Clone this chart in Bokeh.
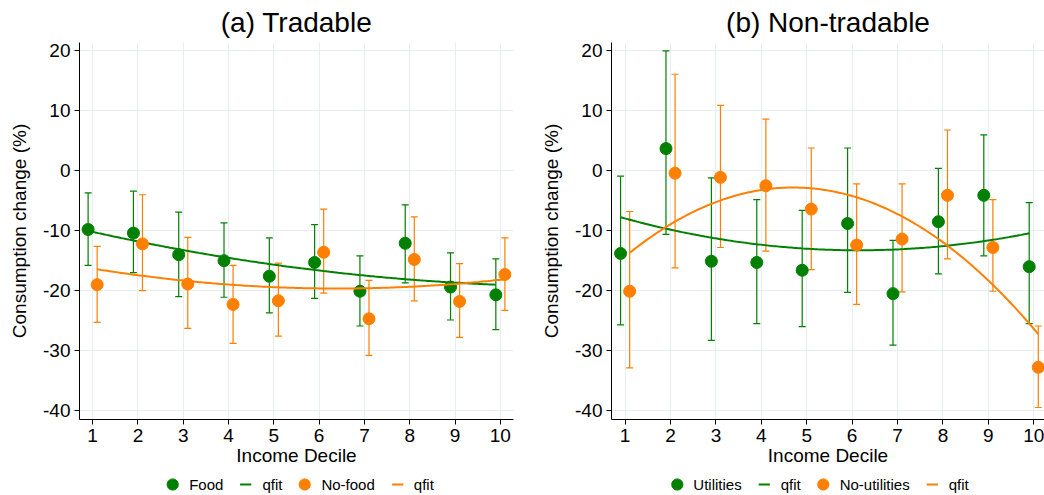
import numpy as np
from bokeh.plotting import figure
from bokeh.models import (Range1d, FixedTicker, Whisker, TeeHead, ColumnDataSource,
                          Legend, LegendItem, PrintfTickFormatter)
from bokeh.layouts import row, column
from bokeh.embed import file_html
from bokeh.resources import INLINE

# ---------------- data ----------------
deciles = [1, 2, 3, 4, 5, 6, 7, 8, 9, 10]

food = [-9.8, -10.4, -14.0, -15.0, -17.6, -15.3, -20.1, -12.1, -19.4, -20.7]
food_hi = [-3.7, -3.4, -6.9, -8.7, -11.2, -9.0, -14.2, -5.7, -13.7, -14.7]
food_lo = [-15.8, -17.0, -21.0, -21.1, -23.7, -21.3, -25.9, -18.7, -24.9, -26.5]

nofood = [-19.0, -12.2, -18.9, -22.3, -21.7, -13.6, -24.7, -14.8, -21.8, -17.3]
nofood_hi = [-12.6, -4.0, -11.1, -15.8, -15.4, -6.4, -18.3, -7.7, -15.5, -11.2]
nofood_lo = [-25.3, -20.0, -26.3, -28.8, -27.6, -20.4, -30.8, -21.7, -27.8, -23.3]

util = [-13.8, 3.7, -15.1, -15.3, -16.6, -8.8, -20.5, -8.5, -4.1, -16.0]
util_hi = [-0.9, 20.0, -1.2, -4.8, -6.6, 3.8, -11.6, 0.4, 6.0, -5.3]
util_lo = [-25.7, -10.6, -28.3, -25.5, -26.0, -20.3, -29.1, -17.2, -14.2, -25.5]

noutil = [-20.1, -0.4, -1.1, -2.5, -6.4, -12.4, -11.4, -4.1, -12.8, -32.8]
noutil_hi = [-6.8, 16.1, 10.9, 8.6, 3.8, -2.2, -2.2, 6.8, -4.8, -25.9]
noutil_lo = [-32.9, -16.2, -12.8, -13.4, -16.5, -22.3, -20.2, -14.7, -20.1, -39.5]

x_ticks = [1, 2, 3, 4, 5, 6, 7, 8, 9, 10]
y_ticks = [-40, -30, -20, -10, 0, 10, 20]

GREEN = "#008000"
ORANGE = "#ff7f00"
FONT = "Liberation Sans"
GRID = "#e6eef1"


def make_panel(title, series, width, bl, br, xr):
    p = figure(width=width, height=473, output_backend="svg", toolbar_location=None,
               x_range=Range1d(*xr), y_range=Range1d(-41.5, 21.4),
               min_border_left=bl, min_border_right=br, min_border_top=42,
               min_border_bottom=54)
    p.title.text = title
    p.title.align = "center"
    p.title.text_font = FONT
    p.title.text_font_size = "28px"
    p.title.text_font_style = "normal"
    p.title.text_color = "black"
    p.title.standoff = 9
    p.outline_line_color = None
    p.background_fill_color = "white"
    p.border_fill_color = "white"

    for ax in (p.xaxis[0], p.yaxis[0]):
        ax.axis_line_color = "black"
        ax.axis_line_width = 1
        ax.major_tick_line_color = "black"
        ax.major_tick_out = 5
        ax.major_tick_in = 0
        ax.minor_tick_line_color = None
        ax.major_label_text_font = FONT
        ax.major_label_text_font_size = "19px"
        ax.major_label_text_color = "black"
        ax.axis_label_text_font = FONT
        ax.axis_label_text_font_size = "19px"
        ax.axis_label_text_font_style = "normal"
        ax.axis_label_text_color = "black"
    p.xaxis.ticker = FixedTicker(ticks=x_ticks)
    p.yaxis.ticker = FixedTicker(ticks=y_ticks)
    p.xaxis.formatter = PrintfTickFormatter(format="%d")
    p.yaxis.formatter = PrintfTickFormatter(format="%d")
    p.xaxis.axis_label = "Income Decile"
    p.yaxis.axis_label = "Consumption change (%)"
    p.xaxis.major_label_standoff = 4
    p.xaxis.axis_label_standoff = 0
    p.yaxis.major_label_standoff = 4
    p.yaxis.axis_label_standoff = 10
    p.xgrid.ticker = FixedTicker(ticks=x_ticks)
    p.ygrid.ticker = FixedTicker(ticks=y_ticks)
    p.grid.grid_line_color = GRID
    p.grid.grid_line_width = 1

    for (name, vals, lo, hi, color, off) in series:
        xs = [d + off for d in deciles]
        src = ColumnDataSource(dict(x=xs, y=vals, lo=lo, hi=hi))
        w = Whisker(base="x", upper="hi", lower="lo", source=src, dimension="height",
                    line_color=color, line_width=1.2,
                    upper_head=TeeHead(size=7, line_color=color, line_width=1.2),
                    lower_head=TeeHead(size=7, line_color=color, line_width=1.2))
        p.add_layout(w)
        # quadratic fit (qfit) of the point estimates
        coef = np.polyfit(xs, vals, 2)
        fx = np.linspace(xs[0], xs[-1], 200)
        fy = np.polyval(coef, fx)
        p.line(fx, fy, line_color=color, line_width=2)
        p.scatter("x", "y", source=src, size=12, fill_color=color, line_color=color)
    return p


def make_legend(series, width, bl, br):
    lf = figure(width=width, height=22, output_backend="svg", toolbar_location=None,
                x_range=Range1d(0, 1), y_range=Range1d(0, 1),
                x_axis_type=None, y_axis_type=None,
                min_border_left=bl, min_border_right=br, min_border_top=0,
                min_border_bottom=0)
    lf.outline_line_color = None
    lf.grid.visible = False
    lf.background_fill_color = "white"
    lf.border_fill_color = "white"
    items = []
    for (name, color) in series:
        # legend-key renderers, placed outside the visible range
        pts = lf.scatter([-10], [-10], marker="circle", size=12,
                         fill_color=color, line_color=color)
        dash = lf.scatter([-10], [-10], marker="dash", size=10,
                          line_color=color, line_width=2)
        items.append(LegendItem(label=name, renderers=[pts]))
        items.append(LegendItem(label="qfit", renderers=[dash]))
    leg = Legend(items=items, orientation="horizontal", location="center",
                 glyph_width=28, glyph_height=28, label_standoff=3, spacing=8,
                 padding=0, margin=0, border_line_color=None, background_fill_alpha=0,
                 label_text_font=FONT, label_text_font_size="15px",
                 label_text_color="black")
    lf.add_layout(leg, "center")
    return lf


p1 = make_panel("(a) Tradable",
                [("Food", food, food_lo, food_hi, GREEN, -0.1),
                 ("No-food", nofood, nofood_lo, nofood_hi, ORANGE, 0.1)],
                522, 79, 9, (0.71, 10.29))
p2 = make_panel("(b) Non-tradable",
                [("Utilities", util, util_lo, util_hi, GREEN, -0.1),
                 ("No-utilities", noutil, noutil_lo, noutil_hi, ORANGE, 0.1)],
                522, 89, 0, (0.70, 10.237))
l1 = make_legend([("Food", GREEN), ("No-food", ORANGE)], 522, 79, 9)
l2 = make_legend([("Utilities", GREEN), ("No-utilities", ORANGE)], 522, 89, 24)

layout = column(row(p1, p2), row(l1, l2))
open("out.html", "w").write(file_html(layout, INLINE))
